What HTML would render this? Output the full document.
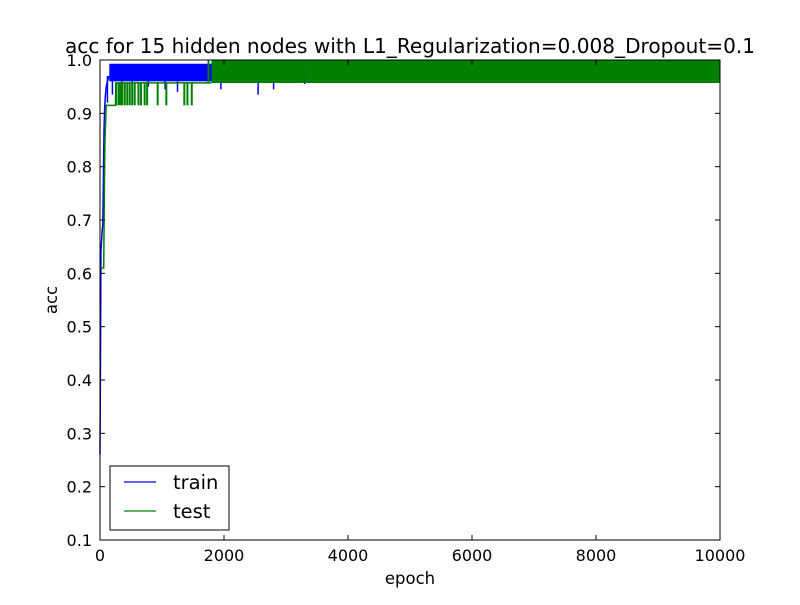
<!DOCTYPE html>
<html><head><meta charset="utf-8"><style>
body{margin:0;background:#fff;}
svg text{font-family:"DejaVu Sans","Liberation Sans",sans-serif;fill:#000;}
</style></head><body>
<svg id="chart" width="800" height="600" xmlns="http://www.w3.org/2000/svg">
<rect width="800" height="600" fill="#fff"/>
<text x="410" y="53" font-size="20" text-anchor="middle" textLength="690" lengthAdjust="spacingAndGlyphs">acc for 15 hidden nodes with L1_Regularization=0.008_Dropout=0.1</text>
<g id="plot"></g>
<g id="axes"></g>
<text x="410" y="584" font-size="16.5" text-anchor="middle">epoch</text>
<text x="57" y="300" font-size="16.5" text-anchor="middle" transform="rotate(-90 57 300)">acc</text>
<g>
<rect x="110" y="466" width="119" height="64" fill="#fff" stroke="#000" stroke-width="1"/>
<line x1="124" y1="482" x2="156" y2="482" stroke="#0000ff" stroke-width="1.2"/>
<text x="173" y="489" font-size="19.5">train</text>
<line x1="124" y1="511" x2="156" y2="511" stroke="#008000" stroke-width="1.2"/>
<text x="173" y="518" font-size="19.5">test</text>
</g>
</svg>
<script>
const xTicks=[0,2000,4000,6000,8000,10000];
const yTicks=[0.1,0.2,0.3,0.4,0.5,0.6,0.7,0.8,0.9,1.0];
const trainEarlyEpoch=[0,8,15,25,35,45,55,65,75,85,100,120,150];
const trainEarlyAcc=[0.26,0.45,0.64,0.66,0.68,0.69,0.78,0.87,0.91,0.93,0.95,0.96,0.97];
const testEarlyEpoch=[0,60,70,80,100,250,255,1800];
const testEarlyAcc=[0.61,0.61,0.75,0.85,0.915,0.915,0.957,0.957];
const bandEpochStart=[150,1800,3300];
const bandEpochEnd=[1800,3300,10000];
const trainBandLow=[0.96,0.957,0.957];
const trainBandHigh=[0.993,1.0,1.0];
const testBandLow=[0.957,0.957,0.957];
const testBandHigh=[0.957,1.0,1.0];
const testSpikeUpEpoch=[1750];
const testSpikeDownEpoch=[260,300,330,360,400,440,480,520,560,620,660,720,760,930,1070,1360,1410,1480];
const trainDipEpoch=[120,200,350,520,780,1050,1250,1950,2550,2800,3300];
const trainDipAcc=[0.92,0.935,0.945,0.945,0.95,0.945,0.94,0.945,0.935,0.945,0.955];

const X0=100,X1=720,Y0=540,Y1=60;
const sx=e=>X0+e/10000*(X1-X0);
const sy=v=>Y0-(v-0.1)/0.9*(Y0-Y1);
const NS="http://www.w3.org/2000/svg";
const plot=document.getElementById('plot'),axes=document.getElementById('axes');
function mk(tag,attrs,parent){const el=document.createElementNS(NS,tag);for(const k in attrs)el.setAttribute(k,attrs[k]);parent.appendChild(el);return el;}

for(let i=0;i<bandEpochStart.length;i++){
  const r=mk('rect',{x:sx(bandEpochStart[i]),y:sy(trainBandHigh[i]),width:sx(bandEpochEnd[i])-sx(bandEpochStart[i]),height:sy(trainBandLow[i])-sy(trainBandHigh[i]),fill:'#0000ff'},plot);
  
  
}
const tl=mk('polyline',{points:trainEarlyEpoch.map((e,i)=>sx(e)+','+sy(trainEarlyAcc[i])).join(' '),fill:'none',stroke:'#0000ff','stroke-width':1.5},plot);


trainDipEpoch.forEach((e,i)=>{
  const l=mk('line',{x1:sx(e),x2:sx(e),y1:sy(0.97),y2:sy(trainDipAcc[i]),stroke:'#0000ff','stroke-width':1.5},plot);
  
  
});
const gl=mk('polyline',{points:testEarlyEpoch.map((e,i)=>sx(e)+','+sy(testEarlyAcc[i])).join(' '),fill:'none',stroke:'#008000','stroke-width':1.5},plot);


for(let i=0;i<bandEpochStart.length;i++){
  if(testBandHigh[i]===testBandLow[i])continue;
  const r=mk('rect',{x:sx(bandEpochStart[i]),y:sy(testBandHigh[i]),width:sx(bandEpochEnd[i])-sx(bandEpochStart[i]),height:sy(testBandLow[i])-sy(testBandHigh[i]),fill:'#008000'},plot);
  
  
}
testSpikeUpEpoch.forEach(e=>{
  const l=mk('line',{x1:sx(e),x2:sx(e),y1:sy(0.957),y2:sy(1.0),stroke:'#008000','stroke-width':2},plot);
  
  
});
testSpikeDownEpoch.forEach(e=>{
  const l=mk('line',{x1:sx(e),x2:sx(e),y1:sy(0.957),y2:sy(0.915),stroke:'#008000','stroke-width':2},plot);
  
  
});
const fr=mk('rect',{x:X0,y:Y1,width:X1-X0,height:Y0-Y1,fill:'none',stroke:'#000','stroke-width':1},axes);


xTicks.forEach(t=>{
  const x=sx(t);
  mk('line',{x1:x,x2:x,y1:Y0,y2:Y0-5,stroke:'#000'},axes);
  mk('line',{x1:x,x2:x,y1:Y1,y2:Y1+5,stroke:'#000'},axes);
  const tx=mk('text',{x:x,y:Y0+21,'font-size':16,'text-anchor':'middle'},axes);
  tx.textContent=t;
  
  
});
yTicks.forEach(t=>{
  const y=sy(t);
  mk('line',{x1:X0,x2:X0+5,y1:y,y2:y,stroke:'#000'},axes);
  mk('line',{x1:X1,x2:X1-5,y1:y,y2:y,stroke:'#000'},axes);
  const tx=mk('text',{x:X0-8,y:y+6,'font-size':16,'text-anchor':'end'},axes);
  tx.textContent=t.toFixed(1);
  
  
});
</script>
</body></html>
